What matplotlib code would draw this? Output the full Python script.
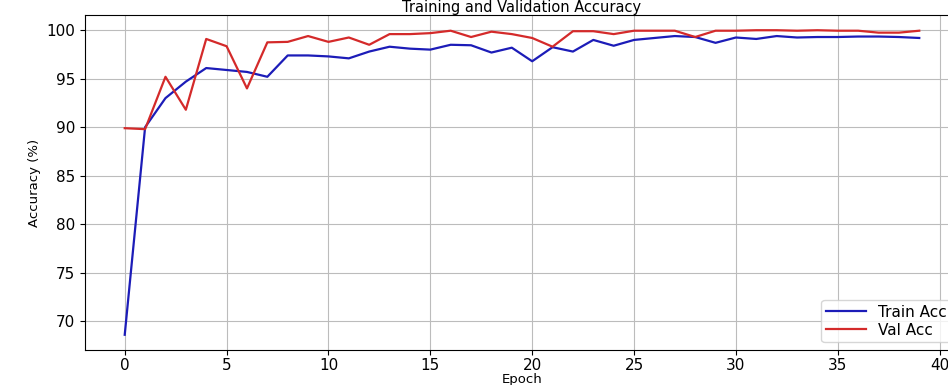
import matplotlib
matplotlib.use("Agg")
import matplotlib.pyplot as plt
import numpy as np

# Accuracy per epoch
epochs = np.arange(40)
train_acc = [
    68.6, 90.0, 93.0, 94.7, 96.1, 95.9, 95.7, 95.2, 97.4, 97.4,
    97.3, 97.1, 97.8, 98.3, 98.1, 98.0, 98.5, 98.45, 97.7, 98.2,
    96.8, 98.25, 97.8, 99.0, 98.4, 99.0, 99.2, 99.4, 99.3, 98.7,
    99.25, 99.1, 99.4, 99.25, 99.3, 99.3, 99.35, 99.35, 99.3, 99.2,
]
val_acc = [
    89.9, 89.8, 95.2, 91.8, 99.1, 98.35, 94.0, 98.75, 98.8, 99.4,
    98.8, 99.25, 98.5, 99.6, 99.6, 99.7, 99.95, 99.3, 99.85, 99.6,
    99.2, 98.3, 99.9, 99.9, 99.6, 99.95, 99.95, 99.95, 99.3, 99.95,
    99.95, 100.0, 100.0, 99.95, 100.0, 99.95, 99.95, 99.75, 99.75, 99.95,
]

fig = plt.figure(figsize=(9.48, 3.85), dpi=100)
# axes run a little past the right edge, like the cropped original
ax = fig.add_axes([85 / 948, 35 / 385, 874 / 948, 335 / 385])

ax.plot(epochs, train_acc, color="#1c1cb8", linewidth=1.6, label="Train Acc")
ax.plot(epochs, val_acc, color="#d42a2a", linewidth=1.6, label="Val Acc")

ax.set_title("Training and Validation Accuracy", fontsize=10.5, pad=1.5)
ax.set_xlabel("Epoch", fontsize=9.5, labelpad=0)
ax.set_ylabel("Accuracy (%)", fontsize=9.5)
ax.tick_params(labelsize=11)
ax.tick_params(axis="x", pad=2)
ax.grid(True, color="#bcbcbc", linewidth=0.8)
ax.legend(loc="lower right", fontsize=11, handlelength=2.6,
          labelspacing=0.2, borderpad=0.3)

fig.savefig("out.png", dpi=100, facecolor="white")
